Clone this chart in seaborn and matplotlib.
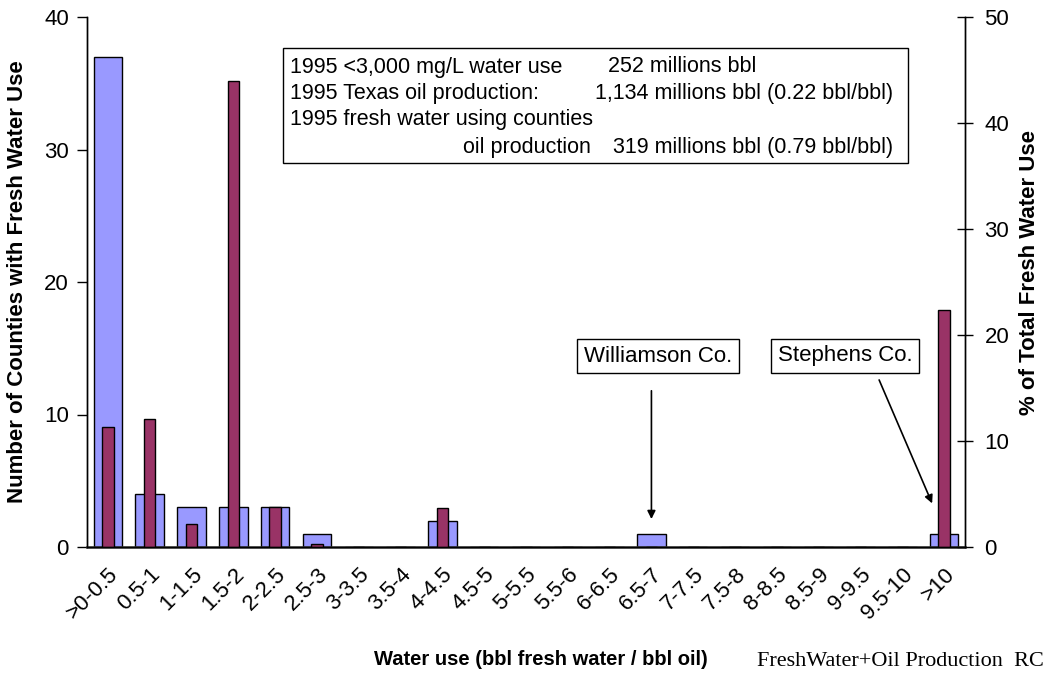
import matplotlib
matplotlib.use("Agg")
import matplotlib.pyplot as plt
from matplotlib.patches import Rectangle
import seaborn as sns
import pandas as pd

categories = [">0-0.5", "0.5-1", "1-1.5", "1.5-2", "2-2.5", "2.5-3", "3-3.5",
              "3.5-4", "4-4.5", "4.5-5", "5-5.5", "5.5-6", "6-6.5", "6.5-7",
              "7-7.5", "7.5-8", "8-8.5", "8.5-9", "9-9.5", "9.5-10", ">10"]
county_counts = [37, 4, 3, 3, 3, 1, 0, 0, 2, 0, 0, 0, 0, 1, 0, 0, 0, 0, 0, 0, 1]
pct_fresh_water = [11.3, 12.1, 2.2, 44.0, 3.8, 0.3, 0, 0, 3.7, 0, 0, 0, 0, 0,
                   0, 0, 0, 0, 0, 0, 22.4]

left_ticks = [0, 10, 20, 30, 40]
right_ticks = [0, 10, 20, 30, 40, 50]

BLUE = "#9999FF"
MAROON = "#993366"

sns.set_style("white")
plt.rcParams["font.family"] = ["Liberation Sans", "DejaVu Sans"]
plt.rcParams["text.color"] = "black"
plt.rcParams["axes.labelcolor"] = "black"
plt.rcParams["xtick.color"] = "black"
plt.rcParams["ytick.color"] = "black"

df = pd.DataFrame({"range": categories, "counties": county_counts,
                   "pct": pct_fresh_water})

fig = plt.figure(figsize=(10.43, 6.74), dpi=100)
ax = fig.add_axes([87 / 1043, 1 - 547 / 674, (965 - 87) / 1043, (547 - 17) / 674])
ax2 = ax.twinx()

sns.barplot(data=df, x="range", y="counties", ax=ax, color=BLUE, width=0.68,
            edgecolor="black", linewidth=1.0, saturation=1)
sns.barplot(data=df, x="range", y="pct", ax=ax2, color=MAROON, width=0.27,
            edgecolor="black", linewidth=1.0, saturation=1)

for a in (ax, ax2):
    a.set_xlim(-0.5, len(categories) - 0.5)
    a.spines["top"].set_visible(False)
    for s in ("left", "right", "bottom"):
        a.spines[s].set_color("black")
        a.spines[s].set_linewidth(1.0)
ax.spines["bottom"].set_color("#333333")
ax.spines["bottom"].set_linewidth(1.8)

ax.set_ylim(0, 40)
ax2.set_ylim(0, 50)
ax.set_yticks(left_ticks)
ax2.set_yticks(right_ticks)

ax.tick_params(axis="y", direction="out", length=7, width=1, labelsize=16, pad=6)
ax2.tick_params(axis="y", direction="inout", length=12, width=1, labelsize=16, pad=8)

# x ticks sit on the category boundaries; labels are centred on the bars
ax.set_xticks([i - 0.5 for i in range(len(categories) + 1)], minor=False)
ax.set_xticklabels([])
ax.tick_params(axis="x", direction="out", length=6, width=1, color="#333333")
ax.set_xticks(range(len(categories)), minor=True)
ax.set_xticklabels(categories, minor=True, rotation=45, ha="right", va="top",
                   rotation_mode="anchor", fontsize=16)
ax.tick_params(axis="x", which="minor", length=0, pad=12)

ax.set_xlabel("Water use (bbl fresh water / bbl oil)", fontsize=14.5,
              fontweight="bold", va="center")
ax.xaxis.set_label_coords(0.517, -0.213)
ax.set_ylabel("Number of Counties with Fresh Water Use", fontsize=16,
              fontweight="bold", va="center")
ax.yaxis.set_label_coords(-0.0786, 0.501)
ax2.set_ylabel("% of Total Fresh Water Use", fontsize=16, fontweight="bold",
               rotation=90, va="center")
ax2.yaxis.set_label_coords(1.073, 0.517)
ax2.set_xlabel("")

# summary box
px = lambda x: x / 1043
py = lambda y: 1 - y / 674
fig.patches.append(Rectangle((px(283), py(163)), px(908) - px(283),
                             py(48) - py(163), transform=fig.transFigure,
                             fill=True, facecolor="white", edgecolor="black",
                             linewidth=1.0, zorder=5))
box_lines = [
    (290, 67, "1995 <3,000 mg/L water use", "left"),
    (608, 67, "252 millions bbl", "left"),
    (290, 93, "1995 Texas oil production:", "left"),
    (893, 93, "1,134 millions bbl (0.22 bbl/bbl)", "right"),
    (290, 120, "1995 fresh water using counties", "left"),
    (463, 148, "oil production", "left"),
    (893, 148, "319 millions bbl (0.79 bbl/bbl)", "right"),
]
for x, y, s, ha in box_lines:
    fig.text(px(x), py(y), s, fontsize=15.5, ha=ha, va="center", zorder=6)

# county callouts
label_box = dict(boxstyle="square,pad=0.3", facecolor="white",
                 edgecolor="black", linewidth=1.0)
ax2.text(px(658), py(356), "Williamson Co.", transform=fig.transFigure,
         fontsize=16, ha="center", va="center", bbox=label_box, zorder=6)
ax2.text(px(845), py(356), "Stephens Co.", transform=fig.transFigure,
         fontsize=16, ha="center", va="center", bbox=label_box, zorder=6)
ax.annotate("", xy=(13, 1.9), xytext=(13, 12.0),
            arrowprops=dict(arrowstyle="-|>", color="black", lw=1.2,
                            mutation_scale=12))
ax.annotate("", xy=(19.74, 3.1), xytext=(18.42, 12.8),
            arrowprops=dict(arrowstyle="-|>", color="black", lw=1.2,
                            mutation_scale=12))

fig.text(px(757), py(662), "FreshWater+Oil Production  RCC",
         family=["Liberation Serif", "DejaVu Serif"], fontsize=16,
         ha="left", va="center")

fig.savefig("out.png", dpi=100)
